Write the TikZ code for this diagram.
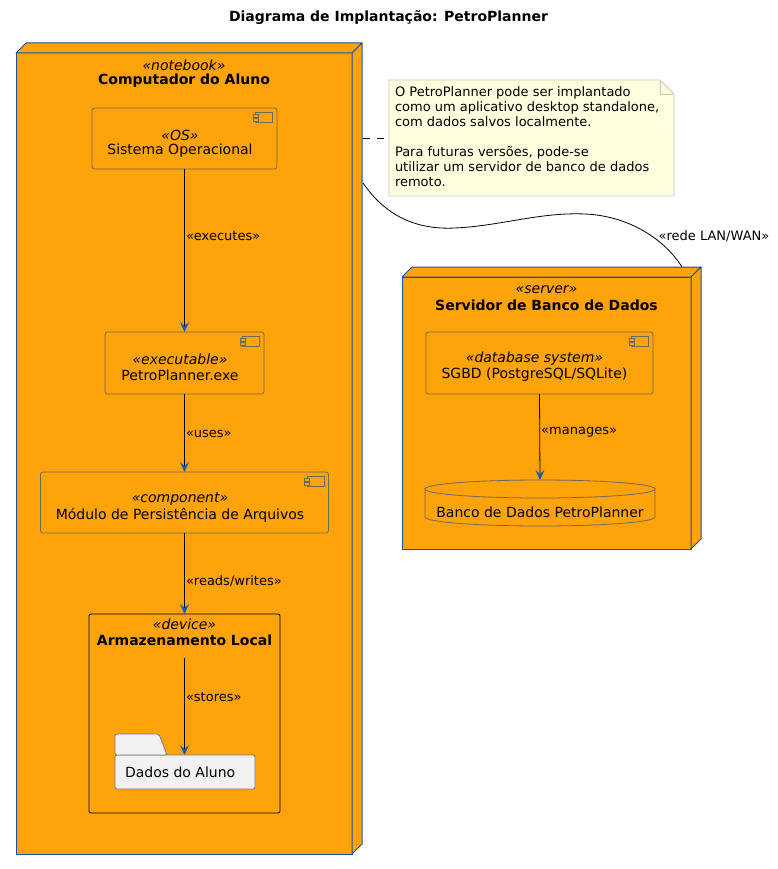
\documentclass[tikz,border=0pt]{standalone}
\usepackage{fontspec}
\setmainfont{DejaVu Sans}
\usetikzlibrary{arrows.meta,calc}

\definecolor{nodeorange}{HTML}{FFA30A}
\definecolor{nodeblue}{HTML}{1A50A0}
\definecolor{tipblue}{HTML}{1A5AAA}
\definecolor{compgray}{HTML}{6E6A5A}
\definecolor{notefill}{HTML}{FFFFE0}
\definecolor{noteline}{HTML}{C8C8B4}
\definecolor{folderfill}{HTML}{F1F1F1}
\definecolor{folderline}{HTML}{7A7A7A}

\tikzset{
  every node/.style={inner sep=0pt, outer sep=0pt},
  nodebox/.style={fill=nodeorange, draw=nodeblue, line width=1pt},
  nodeface/.style={fill=nodeorange, draw=nodeblue, line width=1pt, line join=round},
  compbox/.style={fill=nodeorange, draw=compgray, line width=0.8pt, rounded corners=2.5pt},
  devbox/.style={fill=nodeorange, draw=black, line width=0.8pt, rounded corners=2pt},
  foldbox/.style={fill=folderfill, draw=folderline, line width=0.8pt, rounded corners=2pt},
  stereo/.style={font=\fontsize{14}{16}\selectfont\itshape},
  plain14/.style={font=\fontsize{14}{16}\selectfont},
  bold14/.style={font=\fontsize{14}{16}\selectfont\bfseries},
  lbl/.style={font=\fontsize{13}{15}\selectfont, right, inner xsep=1.5pt},
  dep/.style={draw=black, line width=0.8pt,
    -{Stealth[length=10pt, width=9pt, inset=4pt, color=tipblue]}},
  link/.style={draw=black, line width=0.8pt},
}

% small UML component glyph in the top right corner of a box
\newcommand{\compglyph}[1]{%
  \draw[compgray, line width=0.6pt, fill=nodeorange]
    ($(#1.north east)+(-21.5,4)$) rectangle ++(17,10.5);
  \draw[compgray, line width=0.6pt, fill=nodeorange]
    ($(#1.north east)+(-24,6.5)$) rectangle ++(5,2.5);
  \draw[compgray, line width=0.6pt, fill=nodeorange]
    ($(#1.north east)+(-24,10.5)$) rectangle ++(5,2.5);
}
% three dimensional deployment node: top and right faces
\newcommand{\boxfaces}[1]{%
  \draw[nodeface] (#1.north west) -- ++(10,-10) -- ($(#1.north east)+(10,-10)$)
    -- (#1.north east) -- cycle;
  \draw[nodeface] (#1.north east) -- ++(10,-10) -- ($(#1.south east)+(10,-10)$)
    -- (#1.south east) -- cycle;
}

\begin{document}
\begin{tikzpicture}[x=1pt, y=-1pt]
  \fill[white] (0,0) rectangle (777,869);
  \useasboundingbox (0,0) rectangle (777,869);

  % title
  \node[bold14] (title) at (388.5,18) {Diagrama de Implantação: PetroPlanner};

  % ---------- student computer ----------
  \node[nodebox, minimum width=336pt, minimum height=801pt] (comp) at (184,453.5) {};
  \boxfaces{comp}
  \node[stereo] (compst) at (184,65.5) {«notebook»};
  \node[bold14] (compname) at (184,81) {Computador do Aluno};

  \node[compbox, minimum width=185pt, minimum height=61pt] (os) at (184.5,138.5) {};
  \compglyph{os}
  \node[stereo] (osst) at (180,135) {«OS»};
  \node[plain14] (osname) at (180,151) {Sistema Operacional};

  \node[compbox, minimum width=159pt, minimum height=62pt] (exe) at (184.5,363) {};
  \compglyph{exe}
  \node[stereo] (exest) at (180,359) {«executable»};
  \node[plain14] (exename) at (180,375) {PetroPlanner.exe};

  \node[compbox, minimum width=288pt, minimum height=61pt] (mod) at (184.5,502.5) {};
  \compglyph{mod}
  \node[stereo] (modst) at (180,499) {«component»};
  \node[plain14] (modname) at (180,515) {Módulo de Persistência de Arquivos};

  \node[devbox, minimum width=191pt, minimum height=199pt] (dev) at (184.5,713.5) {};
  \node[stereo] (devst) at (184.5,624.5) {«device»};
  \node[bold14] (devname) at (184.5,640) {Armazenamento Local};
  \coordinate (devin) at (184.5,658);

  % folder with the student's data
  \node[foldbox, minimum width=140pt, minimum height=34pt] (fold) at (185,772) {};
  \draw[foldbox] (fold.north west) -- ($(fold.north west)+(0,-21)$)
    -- ($(fold.north west)+(44,-21)$) -- ($(fold.north west)+(52,0)$) -- cycle;
  \node[plain14, anchor=west] (foldname) at (125,772) {Dados do Aluno};

  \draw[dep] (os.south) -- (exe.north) node[lbl, pos=0.41] {«executes»};
  \draw[dep] (exe.south) -- (mod.north) node[lbl, pos=0.51] {«uses»};
  \draw[dep] (mod.south) -- (dev.north) node[lbl, pos=0.59] {«reads/writes»};
  \draw[dep] (devin) -- (devin |- fold.north) node[lbl, pos=0.40] {«stores»};

  % ---------- database server ----------
  \node[nodebox, minimum width=289pt, minimum height=272pt] (srv) at (546.5,413) {};
  \boxfaces{srv}
  \node[stereo] (srvst) at (546.5,289.5) {«server»};
  \node[bold14] (srvname) at (546.5,305) {Servidor de Banco de Dados};

  \node[compbox, minimum width=227pt, minimum height=62pt] (dbms) at (539.5,363) {};
  \compglyph{dbms}
  \node[stereo] (dbmsst) at (534.5,359) {«database system»};
  \node[plain14] (dbmsname) at (534.5,375) {SGBD (PostgreSQL/SQLite)};

  \node[minimum width=230pt, minimum height=46pt] (db) at (540,503) {};
  \draw[compbox, rounded corners=0pt]
    (425,489) arc[start angle=180, end angle=360, x radius=115, y radius=-9]
    -- (655,517) arc[start angle=0, end angle=-180, x radius=115, y radius=-9] -- cycle;
  \draw[compgray, line width=0.8pt]
    (425,489) arc[start angle=180, end angle=0, x radius=115, y radius=-9];
  \node[plain14] (dbname) at (540,512) {Banco de Dados PetroPlanner};

  \draw[dep] (dbms.south) -- (db.north) node[lbl, pos=0.45] {«manages»};

  % ---------- note ----------
  \node[minimum width=285pt, minimum height=116pt] (note) at (531.5,138) {};
  \draw[fill=notefill, draw=noteline, line width=0.8pt]
    (note.north west) -- ($(note.north east)+(-14,0)$) -- ($(note.north east)+(0,14)$)
    -- (note.south east) -- (note.south west) -- cycle;
  \draw[noteline, line width=0.8pt]
    ($(note.north east)+(-14,0)$) -- ($(note.north east)+(-14,14)$) -- ($(note.north east)+(0,14)$);
  \node[font=\fontsize{13}{15}\selectfont, align=left, anchor=north west] (notetext) at (395,87)
    {O PetroPlanner pode ser implantado\\
     como um aplicativo desktop standalone,\\
     com dados salvos localmente.\\[15pt]
     Para futuras versões, pode-se\\
     utilizar um servidor de banco de dados\\
     remoto.};

  \coordinate (notelink) at (363,138);
  \draw[link, dash pattern=on 7pt off 7pt] (notelink) -- (note.west);

  % ---------- network link ----------
  \coordinate (netA) at (363,183);
  \coordinate (netB) at (682,267);
  \draw[link] (netA) .. controls (385,215) and (415,230) .. (455,228)
    .. controls (500,226) and (540,212) .. (585,214)
    .. controls (630,216) and (665,240) .. (netB);
  \node[font=\fontsize{13}{15}\selectfont] (netlbl) at (714,236) {«rede LAN/WAN»};
\end{tikzpicture}
\end{document}
